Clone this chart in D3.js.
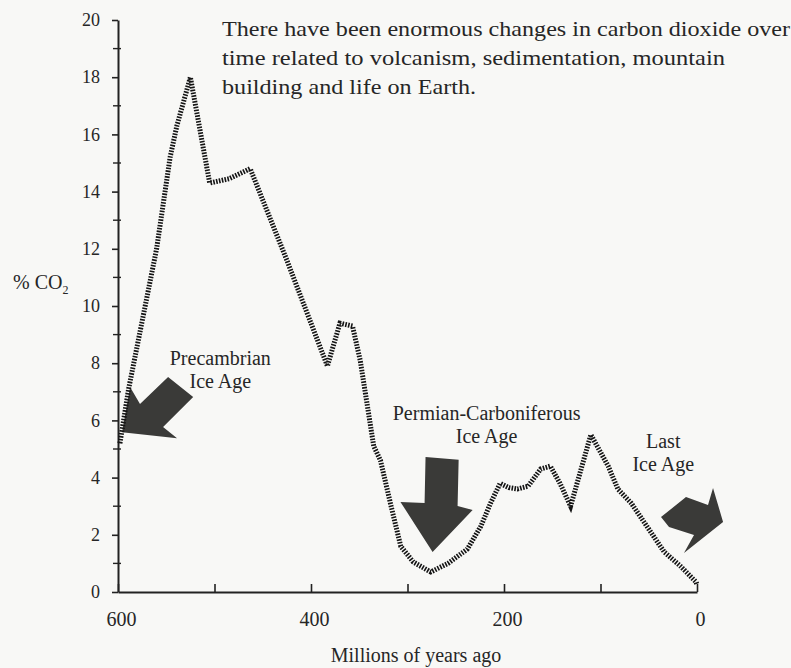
<!DOCTYPE html>
<html>
<head>
<meta charset="utf-8">
<script src="https://cdn.jsdelivr.net/npm/d3@7"></script>
<style>
  body { margin: 0; background: #f8f8f6; }
  svg { display: block; }
  text { font-family: "Liberation Serif", "Times New Roman", serif; fill: #262626; }
</style>
</head>
<body>
<svg width="791" height="668"></svg>
<script>
// millions of years ago
const ages = [598, 589, 560, 546, 539, 525, 505, 485, 463, 425, 383, 370, 357, 349, 335, 328, 317, 307, 294, 276,
  258, 238, 224, 214, 204, 195, 186, 175, 162, 152, 142, 131, 110, 92, 82, 68, 48, 34, 17, 1, 0];
// % CO2
const co2 = [5.2, 7.1, 12.0, 15.2, 16.3, 18.0, 14.3, 14.45, 14.8, 11.6, 7.9, 9.4, 9.3, 8.1, 5.1, 4.6, 3.0, 1.6, 1.05, 0.7,
  1.0, 1.5, 2.3, 3.1, 3.8, 3.65, 3.6, 3.7, 4.3, 4.4, 3.8, 3.0, 5.5, 4.4, 3.6, 3.1, 2.1, 1.4, 0.9, 0.35, 0.25];

const xTicks = [600, 500, 400, 300, 200, 100, 0];
const xLabels = [600, 400, 200, 0];
const yMajor = [0, 2, 4, 6, 8, 10, 12, 14, 16, 18, 20];
const yMinor = [1, 3, 5, 7, 9, 11, 13, 15, 17, 19];

const note = [
  "There have been enormous changes in carbon dioxide over",
  "time related to volcanism, sedimentation, mountain",
  "building and life on Earth."
];
const noteWidths = [568, 503, 254];

// ice age labels: [age, co2, lines]
const iceLabels = [
  [494, 7.95, ["Precambrian", "Ice Age"]],
  [218, 6.0, ["Permian-Carboniferous", "Ice Age"]],
  [35, 5.05, ["Last", "Ice Age"]]
];

// block arrows, corners as [age, co2]
const arrows = [
  [[595.8, 5.59], [587.5, 7.17], [577.2, 6.57], [548.1, 7.52], [522.1, 6.82], [553.3, 5.77], [538.8, 5.38]],
  [[281.3, 4.72], [247.0, 4.62], [248.1, 3.01], [232.5, 2.87], [274.0, 1.40], [307.3, 3.15], [282.3, 3.11]],
  [[37.3, 2.62], [11.4, 3.32], [-11.4, 3.04], [-16.6, 3.64], [-27.0, 2.45], [13.5, 1.36], [3.1, 1.99], [29.0, 2.27]]
];

const svg = d3.select("svg");
const xScale = d3.scaleLinear().domain([600, 0]).range([118, 697]);
const yScale = d3.scaleLinear().domain([0, 20]).range([592, 20]);

// arrows sit behind the line
svg.append("g")
  .selectAll("path")
  .data(arrows)
  .enter()
  .append("path")
  .attr("d", (d) => "M" + d.map((p) => xScale(p[0]) + "," + yScale(p[1])).join("L") + "Z")
  .style("fill", "#3a3a38");

// axes
const yAxis = d3.axisLeft(yScale).tickValues(yMajor).tickSize(6).tickSizeOuter(0).tickPadding(12);
const yG = svg.append("g").attr("transform", "translate(118,0)").call(yAxis);
yG.select("path.domain").style("stroke", "#222").style("stroke-width", 2);
yG.selectAll(".tick line").style("stroke", "#222").style("stroke-width", 1.6);
yG.selectAll(".tick text").style("font-size", "18px").style("font-family", null);

yG.selectAll("line.minor")
  .data(yMinor)
  .enter()
  .append("line")
  .attr("class", "minor")
  .attr("x1", -5)
  .attr("x2", 3)
  .attr("y1", (d) => yScale(d))
  .attr("y2", (d) => yScale(d))
  .style("stroke", "#222")
  .style("stroke-width", 1.4);

const xAxis = d3.axisBottom(xScale)
  .tickValues(xTicks)
  .tickSize(-8)
  .tickSizeOuter(0)
  .tickPadding(20)
  .tickFormat((d) => (xLabels.includes(d) ? d : ""));
const xG = svg.append("g").attr("transform", "translate(0,592)").call(xAxis);
xG.select("path.domain").style("stroke", "#222").style("stroke-width", 2);
xG.selectAll(".tick line").style("stroke", "#222").style("stroke-width", 1.6);
xG.selectAll(".tick text").style("font-size", "20px").style("font-family", null).attr("dx", 3);

// the CO2 curve
const line = d3.line()
  .x((d, i) => xScale(ages[i]))
  .y((d) => yScale(d));

svg.append("path")
  .datum(co2)
  .attr("d", line)
  .style("fill", "none")
  .style("stroke", "#141414")
  .style("stroke-width", 5)
  .style("stroke-dasharray", "1.6,1.3");

// axis titles
const yTitle = svg.append("text").attr("x", 13).attr("y", 289).style("font-size", "20px");
yTitle.append("tspan").text("% CO");
yTitle.append("tspan").text("2").attr("dy", 5).style("font-size", "12px");

svg.append("text")
  .attr("x", 416)
  .attr("y", 662)
  .attr("text-anchor", "middle")
  .style("font-size", "20px")
  .text("Millions of years ago");

// note at top
svg.append("g")
  .selectAll("text")
  .data(note)
  .enter()
  .append("text")
  .attr("x", 222)
  .attr("y", (d, i) => 36 + i * 29)
  .attr("textLength", (d, i) => noteWidths[i])
  .attr("lengthAdjust", "spacingAndGlyphs")
  .style("font-size", "21px")
  .text((d) => d);

// ice age labels
iceLabels.forEach((lab) => {
  svg.append("g")
    .selectAll("text")
    .data(lab[2])
    .enter()
    .append("text")
    .attr("x", xScale(lab[0]))
    .attr("y", (d, i) => yScale(lab[1]) + i * 23)
    .attr("text-anchor", "middle")
    .style("font-size", "20px")
    .text((d) => d);
});
</script>
</body>
</html>
